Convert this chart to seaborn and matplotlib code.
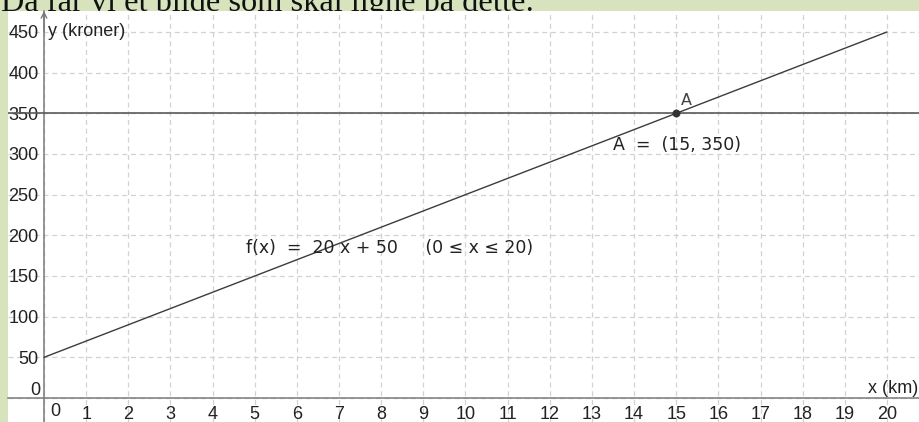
import numpy as np
import pandas as pd
import seaborn as sns
import matplotlib.pyplot as plt
from matplotlib.transforms import offset_copy

# data
line_x = [0, 20]
line_y = [50, 450]
budget = 350
point_a = (15, 350)
x_ticks = list(range(0, 21))
y_ticks = list(range(0, 451, 50))

sns.set_style("white")
plt.rcParams["font.family"] = ["Liberation Sans", "DejaVu Sans"]

bg = "#d6e3bc"
axis_col = "#7a7a7a"
text_col = "#222222"
fs = 13

fig = plt.figure(figsize=(9.19, 4.22), dpi=100, facecolor=bg)
ax = fig.add_axes([8 / 919, 0, 911 / 919, 411 / 422])
ax.set_facecolor("white")

# cut-off text above the picture (sits behind the white plot area)
fig.text(1 / 919, (422 - 11) / 422, "Då får vi et bilde som skal ligne på dette:",
         family="Liberation Serif", fontsize=23.3, va="baseline", ha="left",
         color="#111111", zorder=-1)

df = pd.DataFrame({"x": line_x, "y": line_y})
sns.lineplot(data=df, x="x", y="y", ax=ax, color="#3c3c3c", linewidth=1.0, zorder=3)
ax.axhline(budget, color="#5a5a5a", linewidth=1.2, zorder=3)
pt = pd.DataFrame({"x": [point_a[0]], "y": [point_a[1]]})
sns.scatterplot(data=pt, x="x", y="y", ax=ax, color="#333333", s=28,
                edgecolor="#333333", zorder=4)

ax.set_xlim(-0.854, 20.76)
ax.set_ylim(-29.5, 475.8)
ax.set_xlabel("")
ax.set_ylabel("")

ax.set_xticks(x_ticks)
ax.set_yticks(y_ticks)
ax.set_xticklabels([""] + [str(v) for v in x_ticks[1:]])
ax.set_yticklabels([""] + [str(v) for v in y_ticks[1:]])
ax.grid(True, color="#d2d2d2", linestyle=(0, (4, 3)), linewidth=0.9)
ax.set_axisbelow(True)

for s in ["top", "right"]:
    ax.spines[s].set_visible(False)
ax.spines["left"].set_position(("data", 0))
ax.spines["bottom"].set_position(("data", 0))
for s in ["left", "bottom"]:
    ax.spines[s].set_color(axis_col)
    ax.spines[s].set_linewidth(1.1)
ax.tick_params(axis="both", direction="out", length=2.5, width=0.8, color=axis_col,
               labelsize=fs, labelcolor=text_col)
ax.tick_params(axis="x", pad=3)
ax.tick_params(axis="y", pad=1.5)

# zero labels placed like GeoGebra does
ax.text(0, 0, "0", transform=offset_copy(ax.transData, fig, x=11, y=-5, units="dots"),
        ha="center", va="top", fontsize=fs, color=text_col)
ax.text(0, 0, "0", transform=offset_copy(ax.transData, fig, x=-4, y=8, units="dots"),
        ha="right", va="center", fontsize=fs, color=text_col)

# arrow on y axis
ax.annotate("", xy=(0, 1), xycoords=("data", "axes fraction"),
            xytext=(0, 0.95), textcoords=("data", "axes fraction"),
            arrowprops=dict(arrowstyle="->", color=axis_col, lw=1.0,
                            mutation_scale=10, shrinkA=0, shrinkB=0))

ax.text(0, 451, "y (kroner)", transform=offset_copy(ax.transData, fig, x=4, y=0, units="dots"),
        ha="left", va="center", fontsize=fs, color=text_col)
ax.text(1, 0, "x (km)", transform=offset_copy(ax.get_yaxis_transform(), fig, x=-1, y=1, units="dots"),
        ha="right", va="bottom", fontsize=fs, color=text_col)

ax.text(4.8, 185, "f(x)  =  20 x + 50     (0 ≤ x ≤ 20)", family="DejaVu Sans",
        fontsize=12.5, ha="left", va="center", color=text_col)
ax.text(13.5, 311, "A  =  (15, 350)", family="DejaVu Sans",
        fontsize=12.5, ha="left", va="center", color=text_col)
ax.text(15.1, 357, "A", family="DejaVu Sans", fontsize=11.5, ha="left", va="bottom",
        color="#444444")

fig.savefig("out.png", dpi=100, facecolor=bg)
